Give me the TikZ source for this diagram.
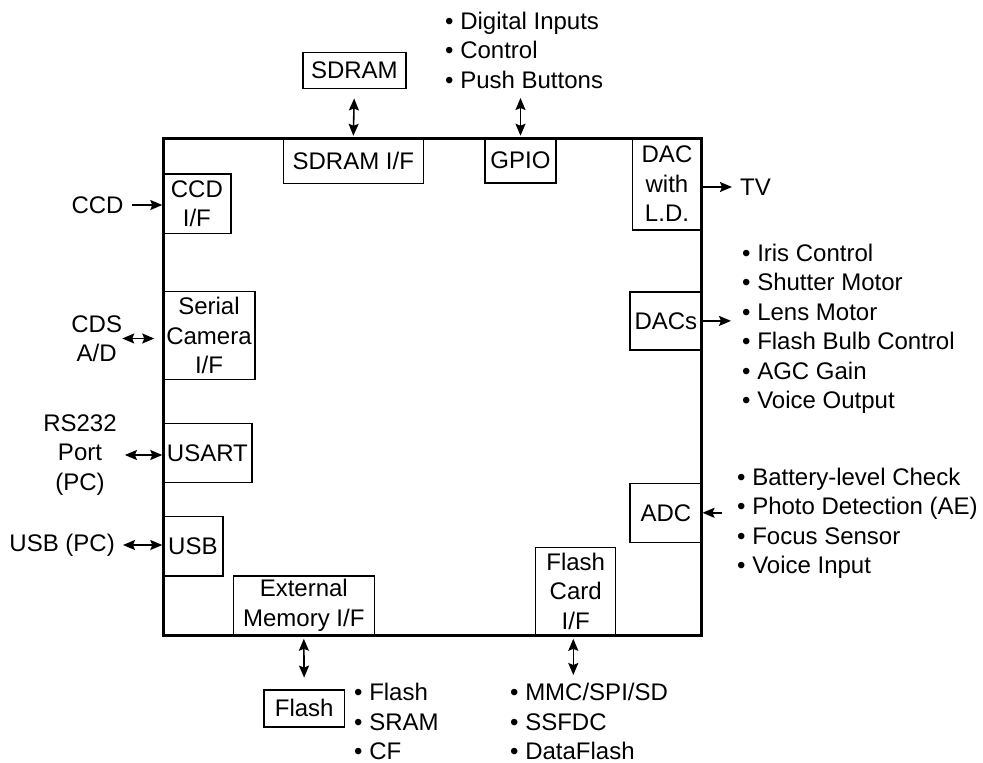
\documentclass[tikz,border=0pt]{standalone}
\usepackage{fontspec}
\setmainfont{Liberation Sans}
\usetikzlibrary{arrows.meta}

\begin{document}
\begin{tikzpicture}[x=1pt,y=-1pt,
        font=\fontsize{24}{29.5}\selectfont,
        blk/.style={draw, line width=1.5pt, inner sep=0pt, align=center},
        lbl/.style={inner sep=8pt, align=center},
        lst/.style={inner sep=0pt, align=left, anchor=west},
        arr/.style={line width=1.6pt, -{Stealth[length=12pt,width=10pt,inset=2pt]}},
        darr/.style={line width=1.6pt, {Stealth[length=12pt,width=10pt,inset=2pt]}-{Stealth[length=12pt,width=10pt,inset=2pt]}}]
        \useasboundingbox (0,0) rectangle (983,763);

        % blocks inside the controller
        \node[blk, minimum width=140, minimum height=45.3] (sdramif) at (353.3,160.7) {SDRAM I/F};
        \node[blk, minimum width=71, minimum height=45] (gpio) at (520.5,160.5) {GPIO};
        \node[blk, minimum width=69.4, minimum height=92] (dacld) at (667,184) {DAC\\with\\L.D.};
        \node[blk, minimum width=67.7, minimum height=59.3] (ccdif) at (196.9,203.7) {CCD\\I/F};
        \node[blk, minimum width=92, minimum height=87.6] (sercam) at (209,335.5) {Serial\\Camera\\I/F};
        \node[blk, minimum width=88.7, minimum height=59] (usart) at (207.4,452.8) {USART};
        \node[blk, minimum width=59.7, minimum height=59.3] (usb) at (192.9,546.3) {USB};
        \node[blk, minimum width=141, minimum height=59] (extmem) at (303.8,605.5) {External\\Memory I/F};
        \node[blk, minimum width=80, minimum height=87.7] (flashif) at (575.7,591.2) {Flash\\Card\\I/F};
        \node[blk, minimum width=71.7, minimum height=58.3] (dacs) at (665.9,320.9) {DACs};
        \node[blk, minimum width=71.7, minimum height=59] (adc) at (665.9,512.8) {ADC};
        \node[draw, line width=3pt, inner sep=0pt, minimum width=538.7, minimum height=497] (chip) at (432.4,386.5) {};

        % outside parts
        \node[blk, minimum width=103.3, minimum height=36.4] (sdram) at (354.4,70.5) {SDRAM};
        \node[blk, minimum width=80.3, minimum height=36.7] (flash) at (304.2,708.4) {Flash};
        \node[lbl, anchor=east] (ccd) at (131.7,205) {CCD};
        \node[lbl] (cds) at (96.7,338.5) {CDS\\A/D};
        \node[lbl] (rs) at (80,455) {RS232\\Port\\(PC)};
        \node[lbl, anchor=east] (usbpc) at (123,545) {USB (PC)};
        \node[lbl, anchor=west] (tv) at (732,187) {TV};
        \node[lst] (gpiolist) at (445,50) {\textbullet\ Digital Inputs\\\textbullet\ Control\\\textbullet\ Push Buttons};
        \node[lst] (daclist) at (742,329) {\textbullet\ Iris Control\\\textbullet\ Shutter Motor\\\textbullet\ Lens Motor\\\textbullet\ Flash Bulb Control\\\textbullet\ AGC Gain\\\textbullet\ Voice Output};
        \node[lst] (adclist) at (737,523.5) {\textbullet\ Battery-level Check\\\textbullet\ Photo Detection (AE)\\\textbullet\ Focus Sensor\\\textbullet\ Voice Input};
        \node[lst] (flashlist) at (354,721.5) {\textbullet\ Flash\\\textbullet\ SRAM\\\textbullet\ CF};
        \node[lst] (cardlist) at (510,721.5) {\textbullet\ MMC/SPI/SD\\\textbullet\ SSFDC\\\textbullet\ DataFlash};
        \coordinate (gpiotop) at (520.5,98);
        \coordinate (cardend) at (573.3,675);

        % connections
        \draw[darr, shorten <=9pt, shorten >=1.5pt] (sdram.south) -- (sdramif.north);
        \draw[darr, shorten >=1.5pt] (gpiotop) -- (gpio.north);
        \draw[arr] (ccd.east) -- (ccd.east -| ccdif.west);
        \draw[darr] ([xshift=-8pt]cds.east) -- ([xshift=-8pt]cds.east -| sercam.west);
        \draw[darr] (rs.east) -- (rs.east -| usart.west);
        \draw[darr] (usbpc.east) -- (usbpc.east -| usb.west);
        \draw[arr] (dacld.east |- tv.west) -- (tv.west);
        \draw[arr, shorten >=11pt] (dacs.east) -- (dacs.east -| daclist.west);
        \draw[arr, shorten <=15pt] (adc.east -| adclist.west) -- (adc.east);
        \draw[darr, shorten <=3pt, shorten >=11.7pt] (extmem.south) -- (flash.north);
        \draw[darr, shorten <=3pt] (cardend |- flashif.south) -- (cardend);
    \end{tikzpicture}
\end{document}
